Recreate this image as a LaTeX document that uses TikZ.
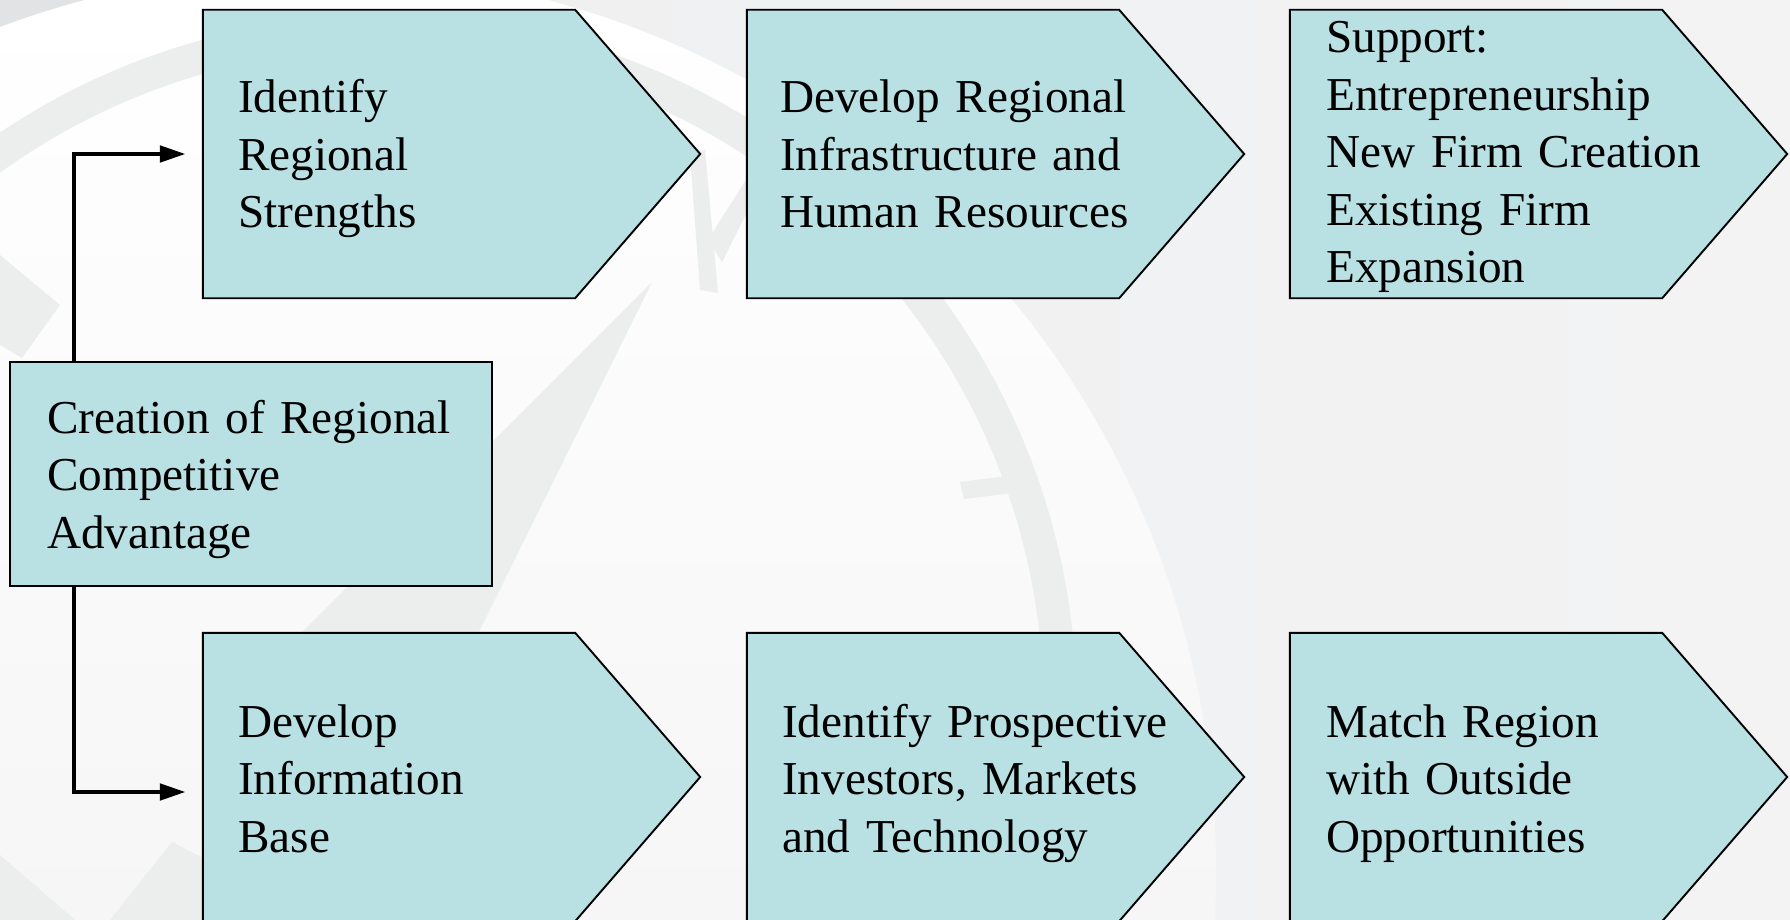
\documentclass[tikz,border=0pt]{standalone}
\usepackage{fontspec}
\setmainfont{Liberation Serif}
\usetikzlibrary{arrows.meta}
\definecolor{boxfill}{HTML}{B9E0E3}
\definecolor{bgdark}{HTML}{E2E3E5}
\definecolor{bgout}{HTML}{EEEFF0}
\definecolor{bgoutr}{HTML}{F3F3F4}
\definecolor{bginb}{HTML}{F6F6F6}
\definecolor{wm}{HTML}{ECEDED}
\begin{document}
\begin{tikzpicture}[x=1pt,y=-1pt,
  chev/.style={draw=black,line width=1.9pt,fill=boxfill,line join=miter},
  boxarea/.style={inner sep=0pt,minimum width=372pt,minimum height=288pt},
  cbox/.style={draw=black,line width=1.9pt,fill=boxfill,inner sep=0pt,minimum width=482pt,minimum height=224pt},
  txt/.style={anchor=base west,inner sep=0pt,text width=450pt,align=left,font=\fontsize{47.2pt}{57.5pt}\selectfont},
  conn/.style={line width=4.8pt,line join=miter,-{Triangle[length=26pt,width=16pt]}}]
\useasboundingbox (0,0) rectangle (1790,920);
% background watermark
\begin{scope}
  \clip (0,0) rectangle (1790,920);
  \shade[left color=bgout,right color=bgoutr] (0,0) rectangle (1790,920);
  \fill[bgdark] (0,0) rectangle (500,300);
  \begin{scope}
    \clip (316,870) circle[radius=900];
    \shade[top color=white,bottom color=bginb] (0,0) rectangle (1790,920);
  \end{scope}
  \draw[wm,line width=33pt] (385,707) circle[radius=675];
  \fill[wm] (960,482) -- (1031,473) -- (1038,490) -- (964,499) -- cycle;
  \fill[wm] (652,282) -- (470,650) -- (284,650) -- cycle;
  \fill[wm] (690,155) -- (705,150) -- (718,293) -- (700,290) -- cycle;
  \fill[wm] (708,240) -- (747,178) -- (747,212) -- (722,262) -- cycle;
  \fill[wm] (0,255) -- (60,305) -- (22,358) -- (0,345) -- cycle;
  \fill[wm] (0,855) -- (75,920) -- (0,920) -- cycle;
  \fill[wm] (110,920) -- (172,842) -- (203,858) -- (203,920) -- cycle;
\end{scope}
% chevron boxes
\node[boxarea] (b1) at (389,154) {};
\node[boxarea] (b2) at (933,154) {};
\node[boxarea] (b3) at (1476,154) {};
\node[boxarea] (b4) at (389,777) {};
\node[boxarea] (b5) at (933,777) {};
\node[boxarea] (b6) at (1476,777) {};
\foreach \b in {b1,b2,b3,b4,b5,b6}
  \draw[chev] (\b.north west) -- (\b.north east) -- ([xshift=125pt]\b.east)
    -- (\b.south east) -- (\b.south west) -- cycle;
\node[cbox] (c) at (251,474) {};
% texts
\node[txt] (t1) at (238,113) {Identify\\Regional\\Strengths};
\node[txt] (t2) at (780,113) {Develop Regional\\Infrastructure and\\Human Resources};
\node[txt] (t3) at (1326,53) {Support:\\Entrepreneurship\\New Firm Creation\\Existing Firm\\Expansion};
\node[txt] (t4) at (238,737) {Develop\\Information\\Base};
\node[txt] (t5) at (782,737) {Identify Prospective\\Investors, Markets\\and Technology};
\node[txt] (t6) at (1326,737) {Match Region\\with Outside\\Opportunities};
\node[txt] (tc) at (47,433) {Creation of Regional\\Competitive\\Advantage};
% connectors
\draw[conn] ([xshift=65pt]c.north west) |- ([xshift=-17pt]b1.west);
\draw[conn] ([xshift=65pt]c.south west) |- ([xshift=-17pt,yshift=-15pt]b4.west);
\end{tikzpicture}
\end{document}
